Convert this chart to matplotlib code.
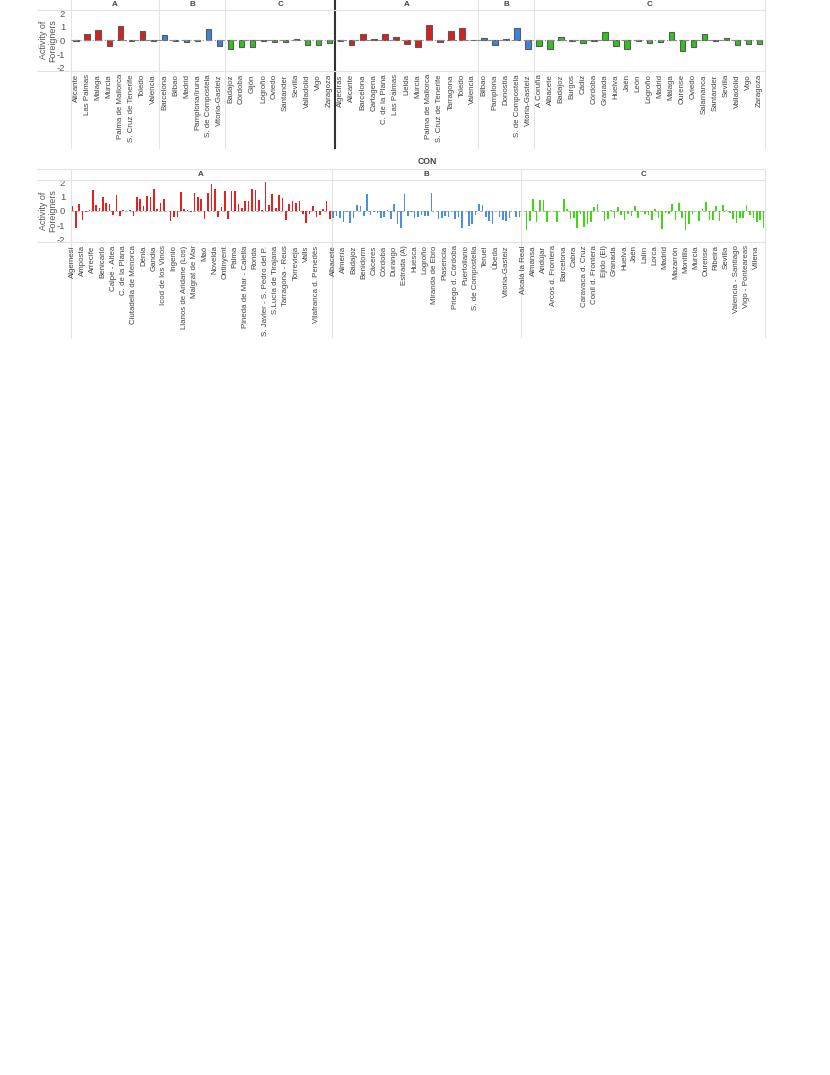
import numpy as np
import matplotlib.pyplot as plt
from matplotlib.lines import Line2D

# ---- top row: two panels, each split in groups A / B / C ----
top_left_a_names = ["Alicante", "Las Palmas", "Malaga", "Murcia", "Palma de Mallorca",
                    "S. Cruz de Tenerife", "Toledo", "Valencia"]
top_left_a_vals = [-0.05, 0.47, 0.74, -0.42, 1.04, -0.03, 0.67, -0.03]
top_left_b_names = ["Barcelona", "Bilbao", "Madrid", "Pamplona/Iruna", "S. de Compostela",
                    "Vitoria-Gasteiz"]
top_left_b_vals = [0.42, -0.08, -0.10, -0.05, 0.81, -0.42]
top_left_c_names = ["Badajoz", "Córdoba", "Gijón", "Logroño", "Oviedo", "Santander",
                    "Sevilla", "Valladolid", "Vigo", "Zaragoza"]
top_left_c_vals = [-0.60, -0.45, -0.45, -0.05, -0.12, -0.10, 0.10, -0.33, -0.37, -0.18]

top_right_a_names = ["Algeciras", "Alicante", "Barcelona", "Cartagena", "C. de la Plana",
                     "Las Palmas", "Lleida", "Murcia", "Palma de Mallorca",
                     "S. Cruz de Tenerife", "Tarragona", "Toledo", "Valencia"]
top_right_a_vals = [-0.03, -0.37, 0.50, 0.10, 0.50, 0.25, -0.25, -0.50, 1.14, -0.12,
                    0.70, 0.92, 0.03]
top_right_b_names = ["Bilbao", "Pamplona", "Donostia", "S. de Compostela", "Vitoria-Gasteiz"]
top_right_b_vals = [0.15, -0.35, 0.10, 0.92, -0.65]
top_right_c_names = ["A Coruña", "Albacete", "Badajoz", "Burgos", "Cádiz", "Córdoba",
                     "Granada", "Huelva", "Jaén", "León", "Logroño", "Madrid", "Málaga",
                     "Ourense", "Oviedo", "Salamanca", "Santander", "Sevilla",
                     "Valladolid", "Vigo", "Zaragoza"]
top_right_c_vals = [-0.42, -0.65, 0.25, -0.05, -0.20, -0.03, 0.60, -0.42, -0.60, -0.04,
                    -0.20, -0.10, 0.62, -0.75, -0.52, 0.47, -0.04, 0.15, -0.35, -0.27,
                    -0.30]

# ---- bottom row: CON ----
con_a_labels = ["Algemesí", "Amposta", "Arrecife", "Benicarló", "Calpe - Altea",
                "C. de la Plana", "Ciutadella de Menorca", "Dénia", "Gandia",
                "Icod de los Vinos", "Ingenio", "Llanos de Aridane (Los)", "Malgrat de Mar",
                "Maó", "Novelda", "Ontinyent", "Palma", "Pineda de Mar - Calella", "Ronda",
                "S. Javier - S. Pedro del P.", "S.Lucía de Tirajana", "Tarragona - Reus",
                "Torrevieja", "Valls", "Vilafranca d. Penedès"]
con_a_vals = [0.37, -1.23, 0.51, -0.63, -0.08, 0.05, 1.49, 0.40, 0.23, 1.02,
              0.60, 0.47, -0.26, 1.14, -0.37, 0.10, 0.03, 0.05, -0.37, 1.02,
              0.88, 0.35, 1.07, 1.00, 1.53, 0.14, 0.58, 0.86, 0.02, -0.74,
              -0.40, -0.40, 1.37, 0.14, 0.05, -0.10, 1.30, 1.00, 0.86, -0.55,
              1.28, 1.95, 1.53, -0.45, 0.30, 1.40, -0.55, 1.40, 1.40, 0.48,
              0.20, 0.70, 0.70, 1.58, 1.50, 0.80, 0.10, 2.05, 0.40, 1.20,
              0.20, 1.14, 0.93, -0.63, 0.53, 0.72, 0.60, 0.74, -0.20, -0.82,
              -0.18, 0.33, -0.45, -0.25, 0.15, 0.70, -0.60]
con_b_labels = ["Albacete", "Almería", "Badajoz", "Benidorm", "Cáceres", "Córdoba",
                "Durango", "Estrada (A)", "Huesca", "Logroño", "Miranda de Ebro",
                "Plasencia", "Priego d. Córdoba", "Puertollano", "S. de Compostella",
                "Teruel", "Úbeda", "Vitoria-Gasteiz"]
con_b_vals = [-0.48, -0.36, -0.52, -0.78, -0.06, -0.82, -0.52, 0.43, 0.37, -0.38,
              1.18, -0.25, -0.05, -0.15, -0.50, -0.43, 0.10, -0.58, 0.50, -0.90,
              -1.20, 1.18, -0.36, -0.04, -0.48, -0.42, -0.30, -0.33, -0.33, 1.30,
              -0.03, -0.55, -0.47, -0.33, -0.42, -0.03, -0.60, -0.42, -1.23, -0.03,
              -1.10, -0.95, -0.30, 0.50, 0.40, -0.45, -0.70, -0.93, 0.02, -0.45,
              -0.67, -0.70, -0.50, -0.03, -0.45, -0.40]
con_c_labels = ["Alcalá la Real", "Almansa", "Andújar", "Arcos d. Frontera", "Barcelona",
                "Cabra", "Caravaca d. Cruz", "Conil d. Frontera", "Ejido (El)", "Granada",
                "Huelva", "Jaén", "Lalín", "Lorca", "Madrid", "Mazarrón", "Montilla",
                "Murcia", "Ourense", "Ribeira", "Sevilla", "Valencia - Santiago",
                "Vigo - Ponteareas", "Villena"]
con_c_vals = [0.03, -1.37, -0.72, 0.88, -0.77, 0.80, 0.75, -0.80, 0.03, -0.10,
              -0.77, -0.02, 0.82, 0.12, -0.55, -0.50, -1.20, -0.18, -1.15, -0.90,
              -0.77, 0.27, 0.47, -0.03, -0.74, -0.60, 0.08, -0.52, 0.27, -0.25,
              -0.62, -0.20, -0.35, 0.33, -0.52, -0.03, -0.23, -0.25, -0.65, 0.12,
              -0.52, -1.30, -0.15, -0.18, 0.53, -0.65, 0.58, -0.47, -1.33, -0.95,
              -0.20, -0.03, -0.72, 0.16, 0.67, -0.62, -0.62, 0.33, -0.70, 0.40,
              0.07, -0.12, -0.58, -0.88, -0.53, -0.47, 0.40, -0.30, -0.50, -0.80,
              -0.65, -1.23]
label_step = 3

group_names = ["A", "B", "C"]
colors_top = {"A": "#d8201f", "B": "#3a84dc", "C": "#2fc41a"}
colors_con = {"A": "#e5201d", "B": "#4a90e2", "C": "#3fd812"}

W, H = 830, 1075
fig = plt.figure(figsize=(W / 100, H / 100), dpi=100)
plt.rcParams['font.family'] = ['Liberation Sans', 'DejaVu Sans']

GRID = "#e3e3e3"
TXT = "#444444"


def px_axes(x0, y0, x1, y1):
    return fig.add_axes([x0 / W, 1 - y1 / H, (x1 - x0) / W, (y1 - y0) / H])


def hline_px(y, x0, x1, color=GRID, lw=0.8):
    fig.add_artist(Line2D([x0 / W, x1 / W], [1 - y / H, 1 - y / H],
                          transform=fig.transFigure, color=color, lw=lw))


def setup_axis(ax, ylim, center_y):
    ax.set_ylim(-ylim, ylim)
    ax.set_yticks([-2, -1, 0, 1, 2])
    ax.set_yticklabels(["-2", "-1", "0", "1", "2"])
    for s in ax.spines.values():
        s.set_visible(False)
    ax.tick_params(axis='y', length=0, labelsize=6.8, labelcolor="#555555", pad=4)
    ax.tick_params(axis='x', length=0, labelsize=5.7, labelcolor=TXT, pad=2.5)
    ax.set_facecolor("none")
    fig.text(48 / W, 1 - center_y / H, "Activity of\nForeigners", rotation=90,
             ha="center", va="center", fontsize=6.4, color="#555555", linespacing=1.0)


def vline(ax, x, y0, y1, color=GRID, lw=0.8):
    ax.plot([x, x], [y0, y1], transform=ax.get_xaxis_transform(), color=color,
            lw=lw, clip_on=False, zorder=0.5)


# ---------------- top row ----------------
ax = px_axes(70.7, 10, 765, 70.7)
panels = [
    [("A", top_left_a_names, top_left_a_vals), ("B", top_left_b_names, top_left_b_vals),
     ("C", top_left_c_names, top_left_c_vals)],
    [("A", top_right_a_names, top_right_a_vals), ("B", top_right_b_names, top_right_b_vals),
     ("C", top_right_c_names, top_right_c_vals)],
]
ax_h = 60.7
y_head = 1 + 10 / ax_h
y_lab = -(148 - 70.7) / ax_h
pos = 0
ticks, ticklabels = [], []
vline(ax, -0.5, y_lab, y_head)
for p, groups in enumerate(panels):
    for g, names, vals in groups:
        x = np.arange(pos, pos + len(vals))
        ax.bar(x, vals, width=0.5, color=colors_top[g], edgecolor="#5a5a5a", lw=0.8, zorder=3)
        ticks += list(x)
        ticklabels += names
        ax.text(pos + (len(vals) - 1) / 2, 1 + 6 / ax_h, g, transform=ax.get_xaxis_transform(),
                ha="center", va="center", fontsize=5.8, fontweight="bold", color=TXT)
        pos += len(vals)
        if g != "C":
            vline(ax, pos - 0.5, y_lab, y_head)
    if p == 0:
        vline(ax, pos - 0.5, y_lab, y_head, color="#333333", lw=1.5)
vline(ax, pos - 0.5, y_lab, y_head)
ax.set_xlim(-0.5, pos - 0.5)
ax.axhline(0, color="#8a8a8a", lw=0.8, ls=(0, (6, 2, 1, 2)), zorder=4)
ax.set_xticks(ticks)
ax.set_xticklabels(ticklabels, rotation=90)
setup_axis(ax, 2.22, 40.3)
hline_px(10, 37, 765)
hline_px(70.7, 37, 765)

# ---------------- bottom row (CON) ----------------
ax2 = px_axes(70.7, 180, 765.3, 242)
ax_h2 = 62
y_head2 = 1 + (180 - 169) / ax_h2
y_lab2 = -(337 - 242) / ax_h2
con_groups = [("A", con_a_labels, con_a_vals), ("B", con_b_labels, con_b_vals),
              ("C", con_c_labels, con_c_vals)]
pos = 0
ticks, ticklabels = [], []
vline(ax2, -0.5, y_lab2, y_head2)
for g, labels, vals in con_groups:
    x = np.arange(pos, pos + len(vals))
    ax2.bar(x, vals, width=0.48, color=colors_con[g], lw=0, zorder=3)
    for k, lab in enumerate(labels):
        ticks.append(pos + k * label_step)
        ticklabels.append(lab)
    ax2.text(pos + (len(vals) - 1) / 2, 1 + 5.5 / ax_h2, g, transform=ax2.get_xaxis_transform(),
             ha="center", va="center", fontsize=5.8, fontweight="bold", color=TXT)
    pos += len(vals)
    vline(ax2, pos - 0.5, y_lab2, y_head2)
ax2.set_xlim(-0.5, pos - 0.5)
ax2.axhline(0, color="#b5b5b5", lw=0.7, ls=(0, (3, 2)), zorder=2)
ax2.set_xticks(ticks)
ax2.set_xticklabels(ticklabels, rotation=90)
setup_axis(ax2, 2.2, 211)
hline_px(169, 37, 765.3)
hline_px(180, 37, 765.3)
hline_px(242, 37, 765.3)
fig.text(427 / W, 1 - 162 / H, "CON", ha="center", va="center", fontsize=6.2,
         fontweight="bold", color=TXT)

fig.savefig("out.png", dpi=100)
